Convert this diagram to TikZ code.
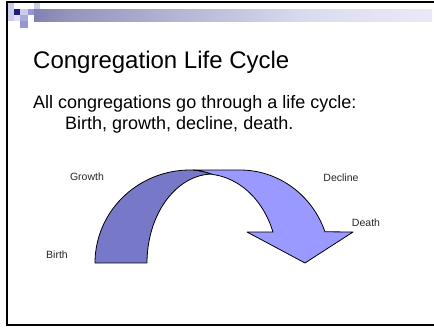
\documentclass[tikz,border=0pt]{standalone}
\usepackage{fontspec}
\setmainfont{Liberation Sans}
\definecolor{navy}{RGB}{30,30,120}
\definecolor{barmid}{RGB}{150,150,190}
\definecolor{darkband}{RGB}{120,120,200}
\definecolor{lightband}{RGB}{153,153,255}
\definecolor{sqpale}{RGB}{205,205,235}
\definecolor{sqmed}{RGB}{150,150,210}
\pgfdeclarehorizontalshading{topbar}{100bp}{color(0bp)=(navy); color(30bp)=(barmid); color(60bp)=(sqpale!70!white); color(100bp)=(white)}
\tikzset{
  frameline/.style={line width=2pt, black},
  band/.style={draw=black, line width=0.8pt, line join=round},
  lbl/.style={inner sep=0pt, font=\fontsize{10.5}{12}\selectfont, text=black!85},
  txt/.style={inner sep=0pt, anchor=base west}
}
\begin{document}
\begin{tikzpicture}[x=1pt,y=-1pt]
\useasboundingbox (0,0) rectangle (434,327);
\fill[white] (0,0) rectangle (434,327);
% top gradient bar
\shade[shading=topbar] (34,9) rectangle (432,21);
% squares
\fill[sqpale] (8,3) rectangle (14,21);
\fill[sqpale!60!white] (14,15) rectangle (20,21);
\fill[navy] (14,9) rectangle (20,15);
\fill[sqpale] (20,9) rectangle (28,15);
\fill[sqmed] (28,9) rectangle (34,15);
\fill[sqpale] (34,3) rectangle (40,9);
\fill[sqmed!80!white] (20,15) rectangle (28,21);
\fill[sqmed] (20,21) rectangle (28,28);
% frame
\draw[frameline] (434,2) -- (7,2) -- (7,325.3) -- (434,325.3);
% texts
\node[txt, font=\fontsize{24}{28}\selectfont] (title) at (33,68) {Congregation Life Cycle};
\node[txt, font=\fontsize{18}{22}\selectfont] (l1) at (33,108) {All congregations go through a life cycle:};
\node[txt, font=\fontsize{18}{22}\selectfont] (l2) at (65,129.5) {Birth, growth, decline, death.};
% dark band
\filldraw[band, fill=darkband]
  plot[domain=0:1, samples=40, variable=\t] ({190+95*cos(180-90*\t)},{263-93*sin(180-90*\t)})
  -- (193,170) .. controls (201,170.5) and (207,172.5) .. (213,174.5)
  -- plot[domain=0:1, samples=40, variable=\t] ({213+66*cos(90+90*\t)},{263-89*sin(90+90*\t)})
  -- cycle;
% light band
\filldraw[band, fill=lightband]
  (193,170) -- (240,170)
  -- plot[domain=0:1, samples=40, variable=\t] ({240+90.2*cos(90-70.4*\t)},{263-93*sin(90-70.4*\t)})
  -- (353,232) -- (305,263) -- (247,232) -- (273,232)
  -- plot[domain=0:1, samples=40, variable=\t] ({205+72.5*cos(20.3+63.4*\t)},{263-89*sin(20.3+63.4*\t)})
  .. controls (207,172.5) and (201,170.5) .. (193,170) -- cycle;
% labels
\node[lbl] (growth) at (87,176.5) {Growth};
\node[lbl] (birth) at (57,255) {Birth};
\node[lbl] (decline) at (341,178) {Decline};
\node[lbl] (death) at (366,222.5) {Death};
\end{tikzpicture}
\end{document}
